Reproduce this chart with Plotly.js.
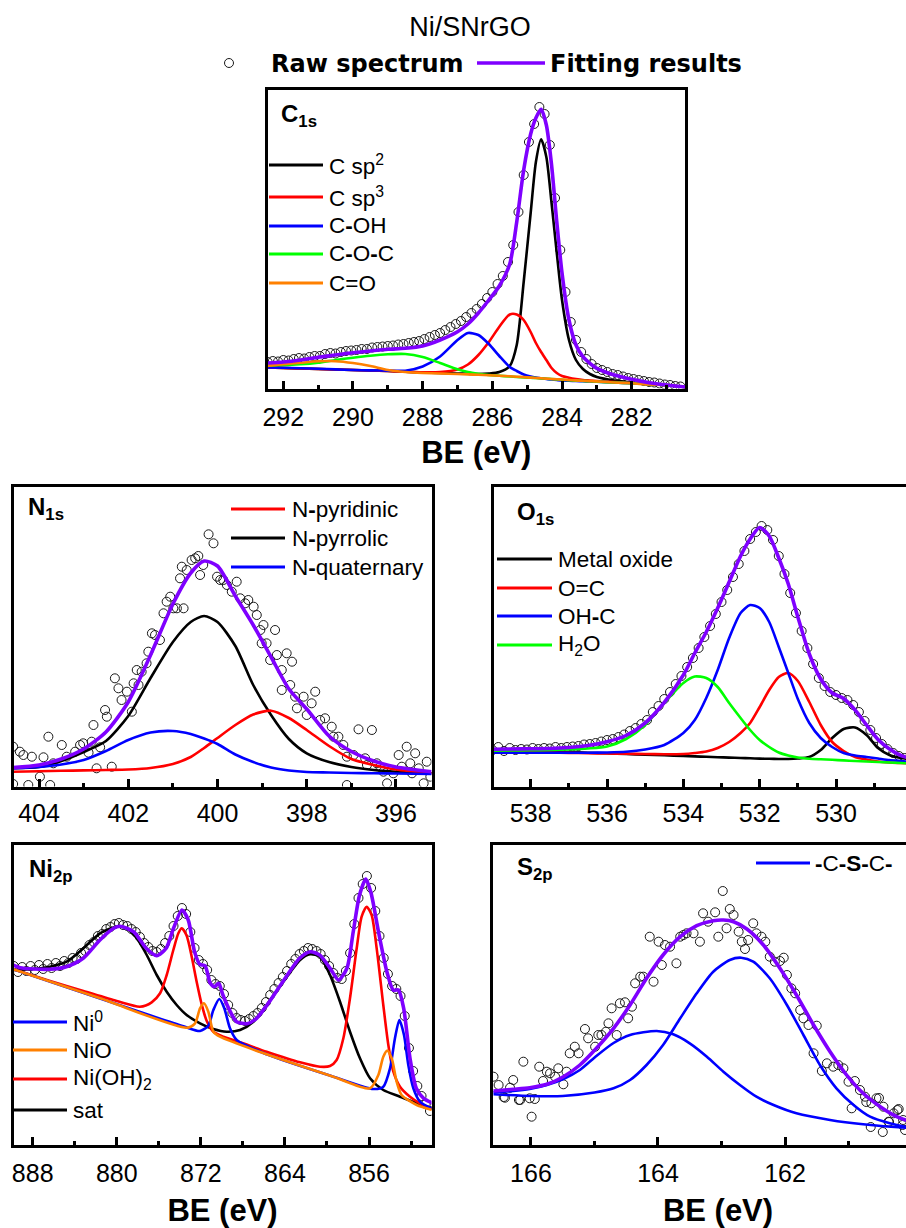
<!DOCTYPE html>
<html><head><meta charset="utf-8">
<script src="https://cdn.plot.ly/plotly-3.0.1.min.js"></script>
<style>html,body{margin:0;padding:0;overflow:hidden;background:#fff}#chart{width:950px;height:1228px}</style>
</head><body><div id="chart"></div>
<script>
// ================= DATA (intensity in arbitrary units) =================
// --- C 1s ---
const c1sX = [292.5,292,291.5,291,290.5,290,289.5,289,288.5,288,287.5,287,286.7,286.4,286.1,285.8,285.5,285.3,285.1,284.9,284.75,284.6,284.45,284.3,284.15,284.0,283.8,283.6,283.4,283.2,283.0,282.5,282,281.5,281,280.44];
const c1sSp2 = [22.7,22,21.5,21,20.5,20,19.5,19,18.3,17.5,17,16.5,16.2,16,16.5,18,24,45,108,177,228,250.7,233,187,137,90,50,30,21,16,13,9.5,7.5,6,4.8,2.7];
const c1sSp3 = [22.7,22,21.5,21,20.5,20,19.5,19,18.3,17.8,18,20.5,25.5,35,48,63.3,75.5,75.5,70,58,47,38,30,22,17,14,12.3,11,10,9.5,9,8,7,6,5,2.7];
const c1sCOH = [22.7,22.2,21.8,21.3,20.6,20,19.6,19.3,19.3,23.5,33.5,50,57,55,46,34,23,19,15.5,13.5,12.5,11.8,11,10.5,10,9.5,9.3,9,8.8,8.5,8.3,7.5,6.7,5.8,5,2.7];
const c1sCOC = [24.3,25,25.7,27.3,30,32.3,34.3,35.7,36,33,27,20.7,18,16.3,15,14.2,13.5,13,12.6,12.2,12,11.6,11.3,11,10.6,10.3,9.8,9.4,9,8.7,8.3,7.5,6.7,5.8,5,2.7];
const c1sCO = [24,25.7,27.3,28.7,28.8,27,24,20,18,17,16.5,16,15.6,15.2,14.8,14.3,13.8,13.3,12.9,12.4,12,11.7,11.4,11,10.7,10.5,10,9.6,9.2,8.9,8.6,7.5,6.7,5.5,5,2.7];
const c1sFit = [27,28,30,32.7,35,37.3,39,40.7,41.7,44,50,58.3,66,77,90,104,126,168,220,256,272,280.7,265,225,168,117,70,45,33.3,26.7,21.7,15,10.7,7.3,5,2.7];
const c1sRawX = [292.45,292.30,292.15,292.00,291.85,291.70,291.55,291.40,291.25,291.10,290.95,290.80,290.65,290.50,290.35,290.20,290.05,289.90,289.75,289.60,289.45,289.30,289.15,289.00,288.85,288.70,288.55,288.40,288.25,288.10,287.95,287.80,287.65,287.50,287.35,287.20,287.05,286.90,286.75,286.60,286.45,286.30,286.15,286.00,285.85,285.70,285.55,285.40,285.25,285.10,284.95,284.80,284.65,284.50,284.35,284.20,284.05,283.90,283.75,283.60,283.45,283.30,283.15,283.00,282.85,282.70,282.55,282.40,282.25,282.10,281.95,281.80,281.65,281.50,281.35,281.20,281.05,280.90,280.75,280.60];
const c1sRawY = [28,29,28.5,30,29.5,31,32,31.5,33,34,34,36,37,36.5,38,39,39.5,40,41,41,42.5,43,43.5,44,44.5,45.5,46,47,48,49,51,53,55,57,60,63,66,69,73,77,81,86,92,98,106,114,128,145,178,215,248,266,283,276,245,192,140,98,68,50,38,31,26,22,20,18,16,15,13.5,12,11,10,9,8,7.5,6.5,5.5,5,4,3.5];
const c1sTicks = [292,290,288,286,284,282];
const c1sMinor = [291,289,287,285,283,281];

// --- N 1s ---
const n1sX = [404.6,404,403.5,403,402.5,402,401.5,401,400.6,400.3,400,399.6,399.2,398.8,398.4,398,397.5,397,396.5,396,395.2];
const n1sPyridinic = [16.3,16.8,17.2,17.6,18,18.5,20,24,31,40,50,63,73.5,77.3,70,58,42,29,23,18.5,14.7];
const n1sPyrrolic = [19.7,21,27,36,47,72,110,146,166,172,166,142,103,73,49,34.7,26,21,18,16.3,14.7];
const n1sQuaternary = [19.7,21,23.5,28,37,48,55.5,57,54,49.5,44,33.5,26,20.5,17.5,16,15.5,15,14.7,14.5,14];
const n1sFit = [20.3,23,29,39,56,86,133,184,215,227,222,192,163,131,99,79,52,36.5,27,21,16.3];
const n1sRawX = [404.58,404.58,404.43,404.35,404.24,404.16,403.98,403.9,403.79,403.75,403.68,403.49,403.38,403.19,403.08,403.01,402.89,402.82,402.71,402.63,402.78,402.52,402.48,402.37,402.3,402.22,402.15,402.03,401.92,401.88,401.81,401.7,401.77,401.59,401.55,401.47,401.4,401.29,401.21,401.14,401.06,400.99,400.91,400.76,400.84,400.8,400.69,400.58,400.5,400.43,400.39,400.32,400.2,400.09,400.01,399.94,399.87,399.79,399.68,399.57,399.49,399.38,399.31,399.19,399.12,399.04,398.97,398.9,399.01,398.82,398.71,398.67,398.56,398.45,398.33,398.56,398.37,398.26,398.22,398.07,398.0,397.89,397.81,397.7,397.59,397.44,397.4,397.29,397.18,397.1,396.95,396.84,396.69,396.54,396.43,396.35,396.28,396.2,396.06,395.94,395.87,395.76,395.64,395.57,395.49,395.38,395.31,395.23,397.1,396.65,395.68];
const n1sRawY = [41.3,4,36.3,33,3,31.3,11.3,30.7,51.3,3,24.7,43,31.3,36.3,43,44.7,35.3,46.3,19.7,40.7,63,78,71.3,21.3,109.7,99.7,88,96.3,76.3,104.7,118,116.3,103,124.7,136.3,154.7,153,148,174.7,186.3,191.3,179.7,179.7,179.7,209.7,221.3,218,228,229.7,232,213,223,253.7,244.7,211.3,208,208,203,196.3,206.3,189.7,184.7,188,181.3,173,158,163,144.7,144.7,128,158,133,118,134.7,126.3,98,103,91.3,79.7,91.3,73,84.7,96.3,68,69.7,61.3,51.3,51.3,43,31.3,33,58.7,29.7,58,24.7,21.3,16.3,4.7,14.7,33,21.3,41.3,14.7,34.7,19.7,4.7,26.3,11.3,3,23,24.7];
const n1sTicks = [404,402,400,398,396];
const n1sMinor = [403,401,399,397];

// --- O 1s ---
const o1sX = [539.01,538.5,538,537.5,537,536.5,536,535.5,535,534.5,534,533.7,533.4,533.1,532.8,532.5,532.25,532.0,531.75,531.5,531.25,531.0,530.7,530.4,530.1,529.8,529.5,529.2,528.9,528.6,528.3,528.0];
const o1sMetalOxide = [38.5,37.8,37.2,36.5,36,35.3,34.7,34,33.3,32.7,32,31.6,31.2,30.8,30.4,30,29.7,29.4,29.2,29,29,29.5,31,38,50,59,60.5,53,40,33,30,28.5];
const o1sOC = [36.3,36,35.7,35.4,35.1,34.8,34.5,34.2,34,33.8,34,35,36.5,40,46,55,65,81,98,111,115,107,86,63,46,37,31,28.5,26.5,25.5,25,24.5];
const o1sOHC = [35.3,35.3,35.3,35.3,35.3,35.3,35.5,36.2,38.5,43,55,68,90,118,150,175,183,180,166,141,115,89,65,50,41,35,32.5,31,29.5,28,27,26];
const o1sH2O = [37.3,37.5,37.7,38,38.5,39.5,41.5,49,63,85,105,111.5,110,101,85,70,58,48,41,35.5,32.5,30.5,29.3,28.7,28.2,27.6,27,26.5,26,25.5,25,24.5];
const o1sFit = [38.7,39,39.2,39.5,40.5,42.5,46.3,52.5,65,85.5,113,135,156,180,206,232,249,260.5,252,230,204,171,134,109,95,89.5,78,63,48.5,39,32.5,29];
const o1sRawX = [539.0,538.85,538.7,538.55,538.4,538.25,538.1,537.95,537.8,537.65,537.5,537.35,537.2,537.05,536.9,536.75,536.6,536.45,536.3,536.15,536.0,535.85,535.7,535.55,535.4,535.25,535.1,534.95,534.8,534.65,534.5,534.35,534.2,534.05,533.9,533.75,533.6,533.45,533.3,533.15,533.0,532.85,532.7,532.55,532.4,532.25,532.1,531.95,531.8,531.65,531.5,531.35,531.2,531.05,530.9,530.75,530.6,530.45,530.3,530.15,530.0,529.85,529.7,529.55,529.4,529.25,529.1,528.95,528.8,528.65,528.5,528.35,528.2];
const o1sRawY = [38,41,37,40,38,39,38.5,40,39,40,39.5,41,40,41,41.5,42,43.5,44,45,46.5,48,49,51,53.5,57,60,64,68,76,82,89,96,104,112,121,130,140,151,162,174,186,198,211,224,237,249,256,262,258,248,232,214,195,175,157,140,124,110,102,96,93,90,88,83,76,67,58,50,44,39,35,32,30];
const o1sTicks = [538,536,534,532,530];
const o1sMinor = [537,535,533,531,529];

// --- Ni 2p ---
const niFitX = [889.9,889.2,887.9,886.4,884.8,883.2,881.6,880.3,879.7,878.4,877.2,876.2,875.3,874.6,873.8,873.2,872.6,872.1,871.6,871.1,870.7,870.3,869.9,869.2,868.6,867.6,866.7,865.7,864.2,862.6,861.6,860.7,859.7,858.9,858.1,857.5,856.9,856.3,855.8,855.1,854.3,853.7,853.2,852.7,852.1,851.5,850.8,849.9];
const niFitY = [181,178.3,177,176.7,179.3,187.7,206,217.7,219.7,214.3,197.7,190.3,197.7,217.7,236,226,194.3,181.7,180.3,162.7,159.3,162.7,151,134.3,124.3,122.3,127.7,141,164.3,187.7,194.3,191,177.7,166,177.7,214.3,251,267,252.7,214.3,174.3,156,156,137.7,87.7,57.7,47.7,42.7];
const niSatX = [889.84,887.94,886.35,884.77,883.18,881.59,880.01,879.06,878.1,877.15,876.2,875.25,874.3,873.35,872.08,870.81,869.54,868.27,867.0,865.74,864.15,862.56,861.61,860.66,859.71,858.76,857.81,856.86,855.9,854.64,853.05,851.46,849.94];
const niSatY = [176,177,179.3,184.3,197.7,212.7,219.3,217.7,207.7,191,171,154.3,141,131,122.7,117,114.3,116,124.3,141,164.3,186,191.7,189.3,171,144.3,114.3,87.7,67.7,56,49.3,42.7,37.7];
const niOH2X = [889.84,886.35,883.18,880.01,877.79,876.68,875.88,875.25,874.62,874.14,873.82,873.35,872.87,872.4,871.92,871.44,870.81,869.86,868.27,865.74,862.56,860.66,859.71,859.08,858.44,857.81,857.17,856.7,856.22,855.75,855.27,854.64,854.16,853.68,853.05,852.1,851.15,849.94];
const niOH2Y = [176.7,165,155,145,139.3,143.7,152.7,171,196,212.7,217.7,210.3,189.3,164.3,141.7,125,114.3,109.3,103.7,94.3,83.7,79.3,80,86,107.7,147.7,197.7,229.3,239.3,231,197.7,141,101,74.3,59.3,49.3,42.7,37];
const niNiOX = [889.84,881.59,873.35,872.55,872.08,871.7,871.29,870.81,870.18,865.74,859.39,855.9,855.11,854.64,854.26,853.84,853.37,852.9,851.46,849.94];
const niNiOY = [176.7,147.7,118.3,122.7,137.7,142.7,134.3,114.3,109.3,91.7,69.3,57.7,71,89.3,95.4,87.7,64.3,51,41,36];
const niNi0X = [889.84,873.66,872.08,871.29,870.81,870.24,869.77,869.23,868.59,865.74,859.39,855.59,854.64,854.0,853.53,853.11,852.67,852.26,851.78,851.15,849.94];
const niNi0Y = [176.7,119.7,115,120.3,136,147,137.7,117.7,106,91.7,69.3,57,59.3,77.7,107.7,126,111,81,57.7,44.3,37];
const niRawX = [889.8,889.4,889.0,888.6,888.2,887.8,887.4,887.0,886.6,886.2,885.8,885.4,885.0,884.6,884.2,883.8,883.4,883.0,882.6,882.2,881.8,881.4,881.0,880.6,880.2,879.8,879.4,879.0,878.6,878.2,877.8,877.4,877.0,876.6,876.2,875.8,875.4,875.0,874.6,874.2,873.8,873.4,873.0,872.6,872.2,871.8,871.4,871.0,870.6,870.2,869.8,869.4,869.0,868.6,868.2,867.8,867.4,867.0,866.6,866.2,865.8,865.4,865.0,864.6,864.2,863.8,863.4,863.0,862.6,862.2,861.8,861.4,861.0,860.6,860.2,859.8,859.4,859.0,858.6,858.2,857.8,857.4,857.0,856.6,856.2,855.8,855.4,855.0,854.6,854.2,853.8,853.4,853.0,852.6,852.2,851.8,851.4,851.0,850.6,850.2];
const niRawY = [180,174,179,175,180,176,181,177,182,178,183,180,185,183,188,187,193,195,201,204,210,212,217,219,222,223,221,220,217,214,209,203,199,195,194,197,203,210,220,230,238,232,214,198,186,182,176,166,162,160,152,141,133,128,126,125,127,130,133,138,144,151,157,163,169,175,182,187,192,195,198,197,195,192,186,180,173,168,167,175,193,222,248,262,270,258,235,210,188,172,160,157,150,130,98,75,60,50,42,35];
const niTicks = [888,880,872,864,856];
const niMinor = [884,876,868,860,852];

// --- S 2p ---
const s2pFitX = [166.59,166.28,166.02,165.75,165.49,165.23,164.97,164.7,164.44,164.18,163.92,163.65,163.39,163.13,162.97,162.81,162.6,162.34,162.08,161.82,161.55,161.29,161.03,160.77,160.5,160.24,160.1,159.8,159.5];
const s2pFitY = [55,56.7,58.3,61.7,69.3,81,97.7,117.7,141,167.7,191,209.3,220.3,225.3,226,224.3,217,201,177.7,151,121,94.3,71,52.7,39.3,29.3,26,22,19];
const s2pAX = [166.59,166.0,165.5,165.0,164.7,164.44,164.18,163.92,163.65,163.39,163.13,162.87,162.69,162.5,162.24,161.97,161.71,161.45,161.19,160.92,160.66,160.35,160.1,159.8,159.5];
const s2pAY = [51.7,50,50,53.5,57.7,66,81,101,127.7,152.7,174.3,186,188.3,184.3,167.7,141,111,81,57.7,41,29.3,22.7,19.3,17.5,16.5];
const s2pBX = [166.59,166.28,166.02,165.75,165.49,165.23,164.97,164.7,164.44,164.02,163.76,163.5,163.23,162.97,162.71,162.45,162.18,161.82,161.29,160.77,160.1,159.5];
const s2pBY = [53.7,55,57,61,67,76,90,103,111,115,111.7,102.7,89.3,74.3,61,49.3,41,32.7,26,21.7,18.3,17];
const s2pRawX = [166.59,166.51,166.41,166.33,166.28,166.17,166.12,166.02,165.99,165.94,165.87,165.81,165.75,165.7,165.62,165.57,165.49,165.44,165.39,165.31,165.25,165.15,165.1,164.99,164.94,164.89,164.82,164.78,164.73,164.65,164.6,164.52,164.47,164.41,164.36,164.28,164.23,164.07,163.94,164.13,163.99,163.89,163.81,163.71,163.65,163.6,163.55,163.44,163.34,163.29,163.21,163.1,163.05,162.98,162.92,162.87,162.81,162.73,162.68,162.63,162.58,162.5,162.45,162.37,162.31,162.24,162.16,162.08,162.02,161.97,161.9,161.84,161.76,161.71,161.63,161.55,161.5,161.42,161.34,161.24,161.16,161.08,161.0,160.95,160.9,160.82,160.74,160.64,160.56,160.45,160.37,160.29,160.21,160.14,160.11,166.43,166.19,160.72,160.65,160.52,160.46,160.36,160.23,160.15];
const s2pRawY = [69.3,61,48.3,58.3,66,46,84.3,47.7,29.3,47,79.3,65,74.3,72.7,69.3,77.7,61.7,74.3,92.7,99.3,92.7,117,107.7,99.3,111,111,114.3,122.7,137.7,111,142.7,143.7,127.7,139.3,162.7,169.3,169.3,164.3,181,209.3,204.3,201,199.3,182.7,209.3,211,212.7,212.7,204.3,232.7,224.3,233.7,209.3,255,217.7,237,231,214.3,204.3,197,206,222.7,212.7,209.3,204.3,189.3,184.3,185,188.3,171,157.7,152.7,136,127.7,121,92.7,120.3,75,82.7,79.3,81,77.7,64.3,37.7,65,56,49.3,42.7,47.7,39.3,24.3,32.7,37,26,16,49,46,44,19,48,14,24,36,21];
const s2pTicks = [166,164,162];
const s2pMinor = [165,163,161];

// ================= STYLE / LAYOUT =================
const W = 950, H = 1228;
const fx = v => v / W, fy = v => 1 - v / H;
const FONT = 'Arial, "Liberation Sans", sans-serif';
const C = {black:'#000000', red:'#ff0000', blue:'#0000ff', green:'#00ff00', orange:'#ff8000', purple:'#7f00ff'};

function curve(x, y, color, w, xa, ya) {
  return {type:'scatter', mode:'lines', x:x, y:y, xaxis:xa, yaxis:ya,
    line:{color:color, width:w, shape:'spline', smoothing:0.7}, hoverinfo:'skip', showlegend:false};
}
function raw(x, y, xa, ya) {
  return {type:'scatter', mode:'markers', x:x, y:y, xaxis:xa, yaxis:ya,
    marker:{symbol:'circle-open', size:9, color:'#1a1a1a', line:{width:1}}, hoverinfo:'skip', showlegend:false};
}
const CW = 2.6, FW = 3.6;
const traces = [
  raw(c1sRawX, c1sRawY, 'x', 'y'),
  curve(c1sX, c1sSp2, C.black, CW, 'x', 'y'),
  curve(c1sX, c1sSp3, C.red, CW, 'x', 'y'),
  curve(c1sX, c1sCOH, C.blue, CW, 'x', 'y'),
  curve(c1sX, c1sCOC, C.green, CW, 'x', 'y'),
  curve(c1sX, c1sCO, C.orange, CW, 'x', 'y'),
  curve(c1sX, c1sFit, C.purple, FW, 'x', 'y'),

  raw(n1sRawX, n1sRawY, 'x2', 'y2'),
  curve(n1sX, n1sPyrrolic, C.black, CW, 'x2', 'y2'),
  curve(n1sX, n1sPyridinic, C.red, CW, 'x2', 'y2'),
  curve(n1sX, n1sQuaternary, C.blue, CW, 'x2', 'y2'),
  curve(n1sX, n1sFit, C.purple, FW, 'x2', 'y2'),

  raw(o1sRawX, o1sRawY, 'x3', 'y3'),
  curve(o1sX, o1sMetalOxide, C.black, CW, 'x3', 'y3'),
  curve(o1sX, o1sOC, C.red, CW, 'x3', 'y3'),
  curve(o1sX, o1sOHC, C.blue, CW, 'x3', 'y3'),
  curve(o1sX, o1sH2O, C.green, CW, 'x3', 'y3'),
  curve(o1sX, o1sFit, C.purple, FW, 'x3', 'y3'),

  raw(niRawX, niRawY, 'x4', 'y4'),
  curve(niSatX, niSatY, C.black, CW, 'x4', 'y4'),
  curve(niOH2X, niOH2Y, C.red, CW, 'x4', 'y4'),
  curve(niNi0X, niNi0Y, C.blue, CW, 'x4', 'y4'),
  curve(niNiOX, niNiOY, C.orange, CW, 'x4', 'y4'),
  curve(niFitX, niFitY, C.purple, FW, 'x4', 'y4'),

  raw(s2pRawX, s2pRawY, 'x5', 'y5'),
  curve(s2pBX, s2pBY, C.blue, CW, 'x5', 'y5'),
  curve(s2pAX, s2pAY, C.blue, CW, 'x5', 'y5'),
  curve(s2pFitX, s2pFitY, C.purple, FW, 'x5', 'y5')
];

function xAxis(x0, x1, range, ticks, minor, anchor, standoff, title, tstand) {
  const ax = {domain:[fx(x0), fx(x1)], range:range, anchor:anchor,
    showline:true, mirror:true, linewidth:3, linecolor:'#000',
    tickmode:'array', tickvals:ticks, ticktext:ticks.map(String),
    ticks:'inside', ticklen:8, tickwidth:3, tickcolor:'#000', ticklabelstandoff:standoff,
    minor:{tickmode:'array', tickvals:minor, ticks:'inside', ticklen:4, tickwidth:3, tickcolor:'#000', showgrid:false},
    showgrid:false, zeroline:false, fixedrange:true,
    tickfont:{family:FONT, size:25, color:'#000'}};
  if (title) ax.title = {text:title, standoff:tstand, font:{family:FONT, size:31, color:'#000', weight:'bold'}};
  return ax;
}
function yAxis(y0, y1, range, anchor) {
  return {domain:[fy(y1), fy(y0)], range:range, anchor:anchor,
    showline:true, mirror:true, linewidth:3, linecolor:'#000',
    ticks:'', showticklabels:false, showgrid:false, zeroline:false, fixedrange:true};
}

const shapes = [], annotations = [];
function legend(items, lx0, lx1, tx, size) {
  items.forEach(it => {
    shapes.push({type:'line', xref:'paper', yref:'paper', x0:fx(lx0), x1:fx(lx1), y0:fy(it[2]), y1:fy(it[2]),
      line:{color:it[0], width:3}});
    annotations.push({xref:'paper', yref:'paper', x:fx(tx), y:fy(it[2]), text:it[1], showarrow:false,
      xanchor:'left', yanchor:'middle', font:{family:FONT, size:size, color:'#000'}});
  });
}
function label(x, y, text) {
  annotations.push({xref:'paper', yref:'paper', x:fx(x), y:fy(y), text:'<b>'+text+'</b>', showarrow:false,
    xanchor:'left', yanchor:'top', font:{family:FONT, size:24, color:'#000'}});
}

legend([[C.black,'C sp<sup>2</sup>',165],[C.red,'C sp<sup>3</sup>',197],[C.blue,'C<b>-</b>OH',226],[C.green,'C<b>-</b>O<b>-</b>C',254],[C.orange,'C=O',283]], 269, 323, 327, 22.5);
legend([[C.red,'N<b>-</b>pyridinic',509],[C.black,'N<b>-</b>pyrrolic',538],[C.blue,'N<b>-</b>quaternary',567]], 231, 285, 290, 22.5);
legend([[C.black,'Metal oxide',559],[C.red,'O=C',588],[C.blue,'OH<b>-</b>C',616],[C.green,'H<sub>2</sub>O',645]], 497, 552, 556, 22.5);
legend([[C.blue,'Ni<sup>0</sup>',1022],[C.orange,'NiO',1050],[C.red,'Ni(OH)<sub>2</sub>',1079],[C.black,'sat',1110]], 13, 67, 71, 22.5);
legend([[C.blue,'<b>-</b>C<b>-S-</b>C<b>-</b>',863]], 756, 810, 813, 22.5);

label(279, 98, 'C<sub>1s</sub>');
label(26, 491, 'N<sub>1s</sub>');
label(515, 496, 'O<sub>1s</sub>');
label(27, 853, 'Ni<sub>2p</sub>');
label(515, 851, 'S<sub>2p</sub>');

// header legend
shapes.push({type:'circle', xref:'paper', yref:'paper', x0:fx(224.5), x1:fx(233.5), y0:fy(67.5), y1:fy(58.5), line:{color:'#1a1a1a', width:1}});
shapes.push({type:'line', xref:'paper', yref:'paper', x0:fx(477), x1:fx(545), y0:fy(63), y1:fy(63), line:{color:C.purple, width:3.5}});
annotations.push({xref:'paper', yref:'paper', x:fx(269), y:fy(64), text:'<b>Raw spectrum</b>', showarrow:false, xanchor:'left', yanchor:'middle', font:{family:'"DejaVu Sans", sans-serif', size:24, color:'#000'}});
annotations.push({xref:'paper', yref:'paper', x:fx(548), y:fy(64), text:'<b>Fitting results</b>', showarrow:false, xanchor:'left', yanchor:'middle', font:{family:'"DejaVu Sans", sans-serif', size:24, color:'#000'}});

const layout = {
  width:W, height:H, margin:{l:0, r:0, t:0, b:0},
  paper_bgcolor:'#fff', plot_bgcolor:'rgba(0,0,0,0)', showlegend:false,
  title:{text:'Ni/SNrGO', x:fx(470), xanchor:'center', y:fy(27), yanchor:'middle', font:{family:FONT, size:27, color:'#000'}},
  xaxis: xAxis(267.5, 685, [292.4535, 280.47], c1sTicks, c1sMinor, 'y', 4, 'BE (eV)', 12),
  yaxis: yAxis(90, 388.5, [1.5, 300], 'x'),
  xaxis2: xAxis(13.5, 431.5, [404.572, 395.204], n1sTicks, n1sMinor, 'y2', 2, null),
  yaxis2: yAxis(486.5, 786.5, [1.5, 301.5], 'x2'),
  xaxis3: xAxis(493.5, 943.5, [538.975, 527.183], o1sTicks, o1sMinor, 'y3', 2, null),
  yaxis3: yAxis(486.5, 786.5, [1.5, 301.5], 'x3'),
  xaxis4: xAxis(13.5, 431.5, [889.827, 850.053], niTicks, niMinor, 'y4', 4, 'BE (eV)', 25),
  yaxis4: yAxis(844.5, 1144.5, [1.5, 301.5], 'x4'),
  xaxis5: xAxis(492.5, 943.5, [166.606, 159.504], s2pTicks, s2pMinor, 'y5', 4, 'BE (eV)', 25),
  yaxis5: yAxis(844.5, 1144.5, [1.5, 301.5], 'x5'),
  shapes:shapes, annotations:annotations
};
Plotly.newPlot('chart', traces, layout, {staticPlot:true, displayModeBar:false});
</script></body></html>
